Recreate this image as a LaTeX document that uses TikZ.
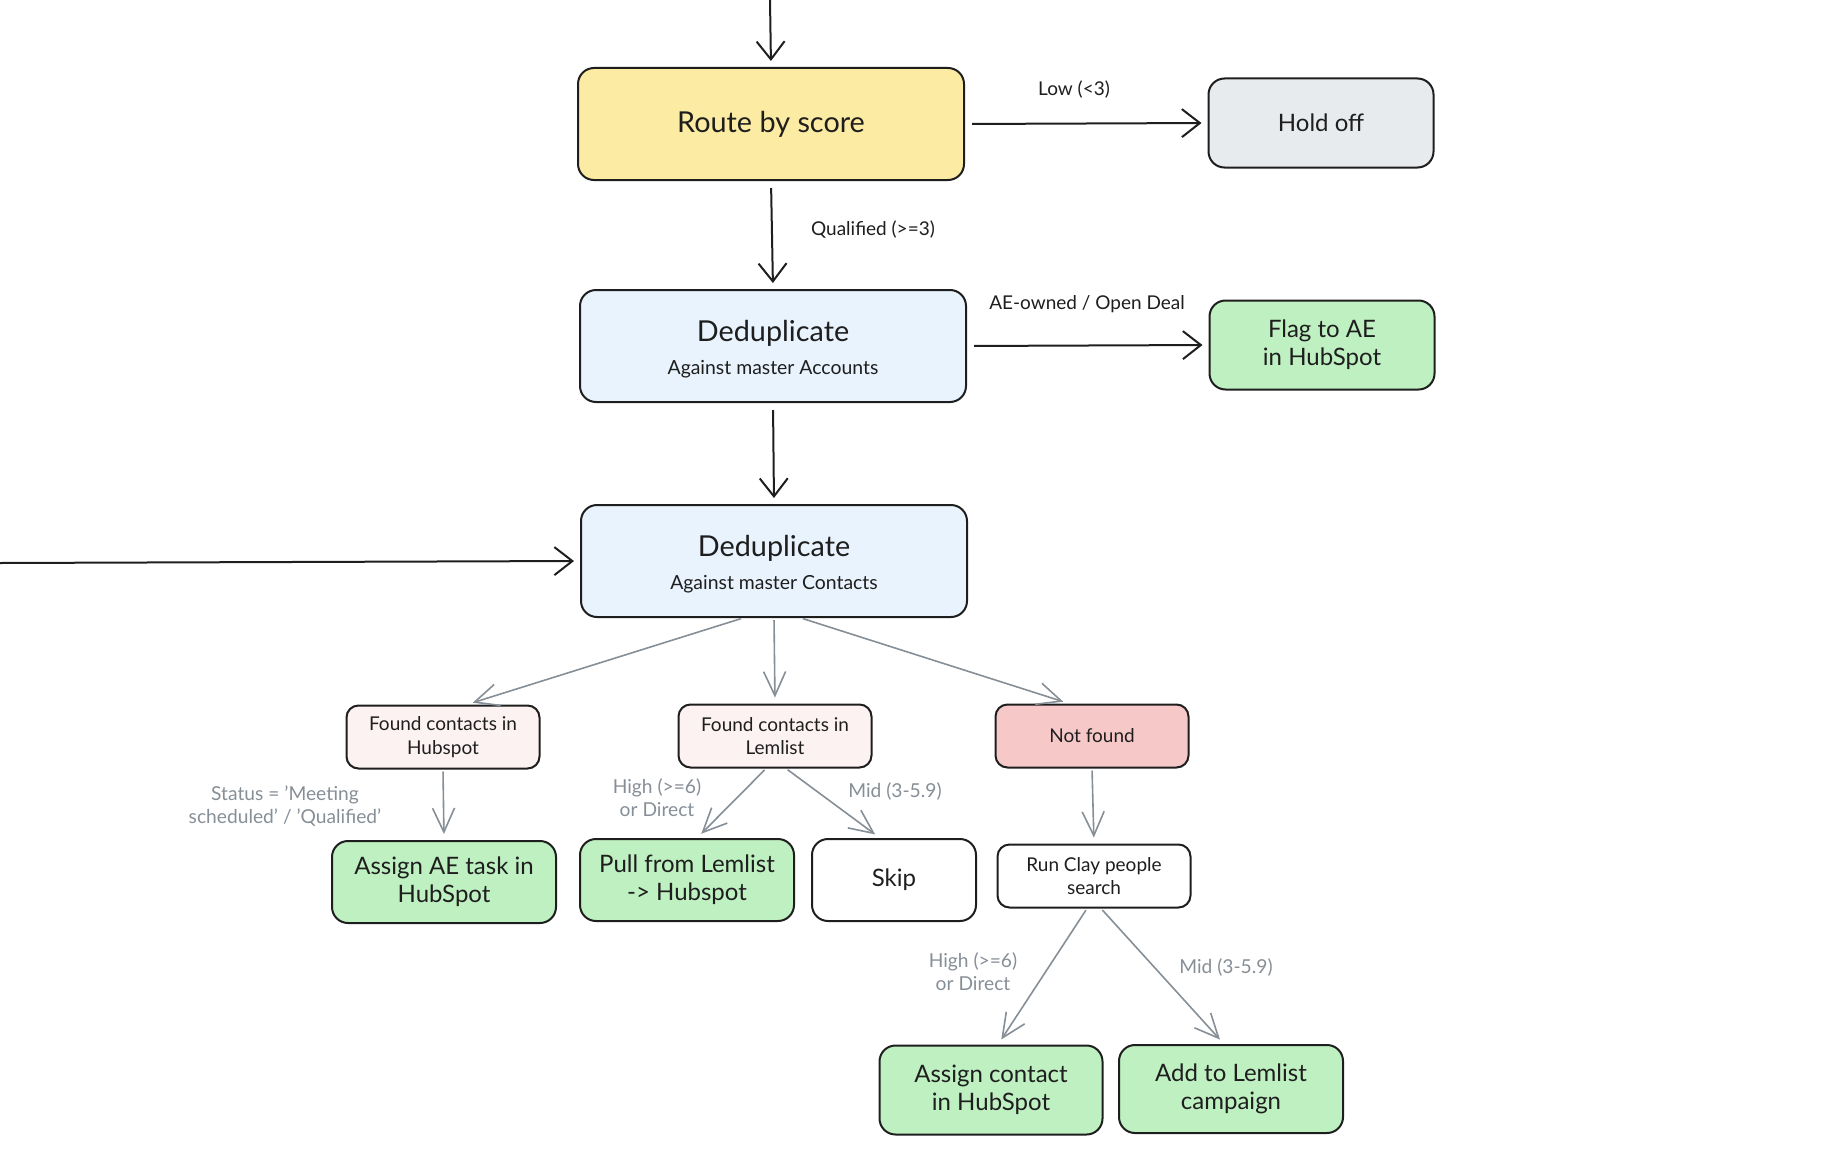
\documentclass[tikz,border=0pt]{standalone}
\usepackage{fontspec}
\setmainfont{Lato}
\usetikzlibrary{arrows.meta,positioning}
\definecolor{flowInk}{HTML}{1E1E1E}
\definecolor{flowYellow}{HTML}{FCEBA2}
\definecolor{flowBlue}{HTML}{E8F3FD}
\definecolor{flowGray}{HTML}{E8EBEE}
\definecolor{flowGreen}{HTML}{BFF0C1}
\definecolor{flowRose}{HTML}{FCF2F2}
\definecolor{flowPink}{HTML}{F6C8C8}
\definecolor{flowEdge}{HTML}{868E96}
\newcommand{\subline}[1]{{\fontsize{9.7}{11}\selectfont #1}}

\begin{document}
\begin{tikzpicture}[
    x=0.5pt, y=-0.5pt,
    box/.style      = {draw=flowInk, line width=1pt, rounded corners=8pt, align=center, text=flowInk, inner sep=2pt},
    bigbox/.style   = {box, minimum width=193pt, minimum height=56pt, font=\fontsize{14.4}{16}\selectfont},
    sidebox/.style  = {box, minimum width=112.5pt, minimum height=44.5pt, font=\fontsize{12}{14}\selectfont},
    smallbox/.style = {box, rounded corners=6pt, minimum width=96.5pt, minimum height=31.5pt, font=\fontsize{9.5}{11.8}\selectfont},
    leafbox/.style  = {box, minimum height=41pt, font=\fontsize{12}{13.8}\selectfont},
    mainarrow/.style = {draw=flowInk, line width=1pt, -{Straight Barb[length=9pt, width=14pt, line width=1pt]}, shorten <=3.5pt, shorten >=3pt},
    subarrow/.style  = {draw=flowEdge, line width=0.8pt, -{Straight Barb[length=12pt, width=11pt, line width=0.8pt]}, shorten <=1pt, shorten >=3pt},
    mainlbl/.style  = {font=\fontsize{9.5}{11}\selectfont, text=flowInk},
    sublbl/.style   = {font=\fontsize{9.6}{11.6}\selectfont, text=flowEdge, align=center}
  ]
  \useasboundingbox (0,0) rectangle (1834,1172);

  %% Scoring and account check
  \node[bigbox, fill=flowYellow] (route) at (771,124) {Route by score};
  \node[sidebox, fill=flowGray]  (hold)  at (1321,123) {Hold off};
  \node[bigbox, fill=flowBlue]   (dupa)  at (773,346) {\rule{0pt}{13.5pt}Deduplicate\\[0.3pt]\subline{Against master Accounts}};
  \node[sidebox, fill=flowGreen] (flag)  at (1322,345) {Flag to AE\\in HubSpot};
  \node[bigbox, fill=flowBlue]   (dupc)  at (774,561) {\rule{0pt}{13.5pt}Deduplicate\\[0.3pt]\subline{Against master Contacts}};

  \coordinate (topin)  at (770,0);
  \coordinate (leftin) at (0,563);
  \draw[mainarrow, shorten <=0pt] (topin) -- (route.north);
  \draw[mainarrow] (route.east) -- (hold.west);
  \node[mainlbl] at (1074,90) {Low (<3)};
  \draw[mainarrow] (route.south) -- (dupa.north);
  \node[mainlbl, anchor=west] at (804,230) {Qualified (>=3)};
  \draw[mainarrow] (dupa.east) -- (flag.west);
  \node[mainlbl] at (1087,304) {AE-owned / Open Deal};
  \draw[mainarrow] (dupa.south) -- (dupc.north);
  \draw[mainarrow, shorten <=0pt] (leftin) -- (dupc.west);

  %% Contact lookup results
  \node[smallbox, fill=flowRose] (fhub) at (443,737)  {Found contacts in\\Hubspot};
  \node[smallbox, fill=flowRose] (flem) at (775,736)  {Found contacts in\\Lemlist};
  \node[smallbox, fill=flowPink] (notf) at (1092,736) {Not found};

  \draw[subarrow] ([xshift=-15.5pt]dupc.south) -- ([xshift=12pt]fhub.north);
  \draw[subarrow] (dupc.south) -- (flem.north);
  \draw[subarrow] ([xshift=13.5pt]dupc.south) -- ([xshift=-11.5pt]notf.north);

  %% Actions
  \node[leafbox, fill=flowGreen, minimum width=112pt] (assae)  at (444,882)  {Assign AE task in\\HubSpot};
  \node[leafbox, fill=flowGreen, minimum width=107pt] (pull)   at (687,880)  {Pull from Lemlist\\-> Hubspot};
  \node[leafbox, fill=white, minimum width=82pt]      (skip)   at (894,880)  {Skip};
  \node[smallbox, fill=white]                         (clay)   at (1094,876) {Run Clay people\\search};
  \node[leafbox, fill=flowGreen, minimum width=111.5pt, minimum height=44.5pt] (asscon) at (991,1090)  {Assign contact\\in HubSpot};
  \node[leafbox, fill=flowGreen, minimum width=112pt, minimum height=44pt]     (addlem) at (1231,1089) {Add to Lemlist\\campaign};

  \draw[subarrow] (fhub.south) -- (assae.north);
  \node[sublbl] at (285,806) {Status = 'Meeting\\scheduled' / 'Qualified'};
  \draw[subarrow] ([xshift=-4.5pt]flem.south) -- ([xshift=5pt]pull.north);
  \node[sublbl] at (657,798) {High (>=6)\\or Direct};
  \draw[subarrow] ([xshift=5.5pt]flem.south) -- ([xshift=-7pt]skip.north);
  \node[sublbl] at (895,791) {Mid (3-5.9)};
  \draw[subarrow] (notf.south) -- (clay.north);
  \draw[subarrow] ([xshift=-3.5pt]clay.south) -- ([xshift=3.5pt]asscon.north);
  \node[sublbl] at (973,972) {High (>=6)\\or Direct};
  \draw[subarrow] ([xshift=3.5pt]clay.south) -- ([xshift=-3.5pt]addlem.north);
  \node[sublbl] at (1226,967) {Mid (3-5.9)};
\end{tikzpicture}
\end{document}
